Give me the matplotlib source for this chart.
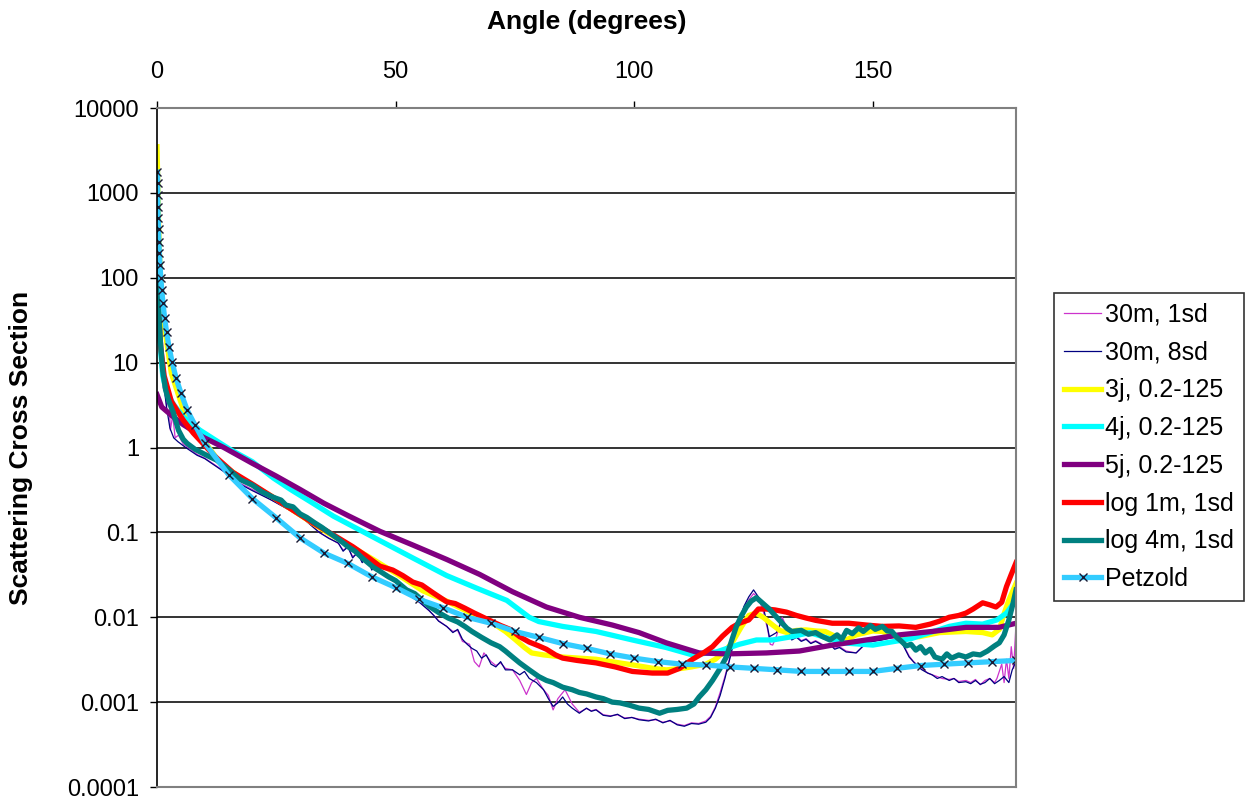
import matplotlib
matplotlib.use('Agg')
import matplotlib.pyplot as plt
from matplotlib.ticker import NullLocator

plt.rcParams['font.family'] = ['Liberation Sans', 'DejaVu Sans']

# series labels (legend order)
labels = ['30m, 1sd', '30m, 8sd', '3j, 0.2-125', '4j, 0.2-125', '5j, 0.2-125',
          'log 1m, 1sd', 'log 4m, 1sd', 'Petzold']

ytick_vals = [1e-4, 1e-3, 1e-2, 1e-1, 1, 10, 100, 1000, 10000]
ytick_labels = ['0.0001', '0.001', '0.01', '0.1', '1', '10', '100', '1000', '10000']
xtick_vals = [0, 50, 100, 150]

# 30m, 1sd
m1_ang = [0, 0.3, 0.7, 1.0, 1.3, 1.6, 2.0, 2.5, 2.8, 3.3, 3.8, 4.5, 5.5, 7, 8.4, 10, 12, 14, 17, 20,
          24, 28, 31, 34, 36, 38, 39, 40, 41, 42, 43, 44, 45, 46, 47, 48, 50, 52, 53.6, 55, 57, 58,
          59, 60.7, 62, 63, 64, 65.5, 66.5, 67.5, 68.5, 70, 71, 72, 73, 74.5, 76, 77.4, 78.5, 79.5,
          81, 82, 83, 84, 85.5, 87, 88.5, 90, 91, 92, 93.5, 95, 96.5, 98, 99.5, 101, 103, 104.5,
          106, 107.5, 109, 110.5, 112, 113.5, 115, 116, 117, 118, 119, 120, 121, 122, 123, 124,
          125, 126, 127, 128, 128.5, 129, 129.8, 131, 132, 133, 134, 135, 136, 137, 138, 140,
          141, 142, 143, 144.4, 146.5, 148.6, 150, 152, 154, 155.5, 156.5, 157.6, 158.5, 159.5,
          160.3, 161.5, 162.4, 163.5, 164.5, 166, 167, 168, 169.5, 170.5, 171.5, 172.5, 173.5,
          174.5, 175.5, 176, 177, 177.5, 178, 178.5, 179, 179.5, 180]
m1_val = [100, 40, 15, 8, 5, 7, 3, 4, 1.6, 2.4, 1.3, 1.4, 1.1, 0.95, 0.83, 0.75, 0.63, 0.53, 0.39,
          0.32, 0.24, 0.18, 0.14, 0.10, 0.086, 0.074, 0.062, 0.066, 0.052, 0.056, 0.045, 0.050,
          0.038, 0.041, 0.034, 0.030, 0.026, 0.021, 0.017, 0.015, 0.012, 0.0105, 0.0091, 0.0078,
          0.0068, 0.0070, 0.0052, 0.0048, 0.0030, 0.0026, 0.0038, 0.0030, 0.0027, 0.0029, 0.0025,
          0.0024, 0.0018, 0.00123, 0.0017, 0.0019, 0.0014, 0.0012, 0.00081, 0.0011, 0.0014,
          0.00095, 0.00076, 0.00084, 0.00079, 0.00082, 0.00071, 0.00069, 0.00071, 0.00065,
          0.00066, 0.00063, 0.00061, 0.00062, 0.00058, 0.00060, 0.00055, 0.00053, 0.00057,
          0.00056, 0.00060, 0.00068, 0.00088, 0.0013, 0.0020, 0.0033, 0.0056, 0.0090, 0.0130,
          0.016, 0.019, 0.017, 0.012, 0.0070, 0.0048, 0.0047, 0.0060, 0.0100, 0.0075, 0.0056,
          0.0060, 0.0053, 0.0056, 0.0050, 0.0053, 0.0046, 0.0049, 0.0043, 0.0045, 0.0040,
          0.0038, 0.0049, 0.0052, 0.0055, 0.0057, 0.0060, 0.0046, 0.0035, 0.0030, 0.0027,
          0.0025, 0.0022, 0.0021, 0.0020, 0.0019, 0.00185, 0.0019, 0.00175, 0.0018, 0.0017,
          0.00185, 0.0016, 0.0018, 0.0019, 0.0017, 0.0019, 0.0028, 0.0017, 0.0032, 0.0019,
          0.0045, 0.0025, 0.0085]

# 30m, 8sd
m8_ang = [0, 0.2, 0.5, 1.0, 1.5, 2.0, 2.7, 3.5, 4.4, 6, 8.4, 10, 12, 14, 17, 20, 24, 28, 31, 34,
          36, 38, 39, 40, 41, 42, 43, 44, 45, 46, 47, 48, 50, 52, 53.6, 55, 57, 58, 59, 60.7, 62,
          63, 64, 65, 66, 67, 68, 69, 70, 71, 72, 73, 74.5, 76, 77, 78, 79.5, 81, 82, 83, 84, 85,
          86, 87, 88.5, 90, 91, 92, 93.5, 95, 96.5, 98, 99.5, 101, 103, 104.5, 106, 107.5, 109,
          110.5, 112, 113.5, 115, 116, 117, 118, 119, 120, 121, 122, 123, 124, 125, 126, 127,
          127.7, 128.3, 129, 129.8, 131, 132, 133, 134, 135, 136, 137, 138, 140, 141, 142, 143,
          144.4, 146.5, 148.6, 150, 152, 154, 155.5, 156.5, 157.6, 158.5, 159.5, 160.3, 161.5,
          162.4, 163.5, 164.5, 166, 167, 168, 169.5, 170.5, 171.5, 172.5, 173.5, 174.5, 175.5,
          176.5, 177.5, 178.5, 179.2, 180]
m8_val = [280, 120, 40, 12, 5, 3.0, 1.7, 1.3, 1.17, 1.0, 0.81, 0.74, 0.62, 0.52, 0.38, 0.31,
          0.24, 0.18, 0.14, 0.10, 0.085, 0.075, 0.060, 0.068, 0.050, 0.058, 0.044, 0.052, 0.036,
          0.042, 0.033, 0.030, 0.026, 0.021, 0.017, 0.015, 0.012, 0.0105, 0.0090, 0.0078,
          0.0066, 0.0072, 0.0055, 0.0048, 0.0043, 0.0040, 0.0033, 0.0036, 0.0028, 0.0026,
          0.0030, 0.0024, 0.0024, 0.0021, 0.0023, 0.0019, 0.0017, 0.0014, 0.0011, 0.00089,
          0.00098, 0.00115, 0.00095, 0.00085, 0.00074, 0.00085, 0.00078, 0.00081, 0.00070,
          0.00068, 0.00072, 0.00064, 0.00066, 0.00062, 0.00060, 0.00063, 0.00057, 0.00061,
          0.00054, 0.00052, 0.00056, 0.00055, 0.00058, 0.00066, 0.00085, 0.0012, 0.0019,
          0.0032, 0.0055, 0.0093, 0.0135, 0.0174, 0.021, 0.0174, 0.0135, 0.0090, 0.0059,
          0.0062, 0.0066, 0.0093, 0.0072, 0.0054, 0.0058, 0.0052, 0.0055, 0.0049, 0.0052,
          0.0045, 0.0048, 0.0042, 0.0044, 0.0039, 0.0038, 0.0050, 0.0052, 0.0054, 0.0058,
          0.0059, 0.0045, 0.0034, 0.0030, 0.0026, 0.0024, 0.0022, 0.0021, 0.0019, 0.0020,
          0.0018, 0.0019, 0.00170, 0.00174, 0.00165, 0.0018, 0.00162, 0.0017, 0.0019, 0.00165,
          0.0018, 0.0020, 0.0017, 0.0024, 0.0030]

# 3j, 0.2-125
j3_ang = [0, 0.1, 0.25, 0.5, 0.8, 1.5, 3, 5.5, 9, 13.2, 18, 24.3, 30, 35.6, 40, 45.3, 50, 55.7,
          60.7, 64, 67.6, 70, 73, 75, 77, 78.5, 81, 85, 92, 99.6, 104, 106.7, 110, 112, 115, 117,
          119, 120.5, 122.5, 124, 125.5, 127, 129, 130.5, 132, 134, 136, 138, 140, 142, 144.4,
          146.5, 148.6, 150, 152, 154, 155.5, 159.7, 164, 169.5, 173, 175, 176.5, 177.5, 178.5,
          180]
j3_val = [3500, 2000, 700, 200, 90, 28, 7.5, 2.8, 1.4, 0.66, 0.42, 0.26, 0.16, 0.10, 0.072,
          0.048, 0.033, 0.0205, 0.0155, 0.0125, 0.0100, 0.0088, 0.0068, 0.0055, 0.0044, 0.0038,
          0.0036, 0.0034, 0.0032, 0.00275, 0.0025, 0.0024, 0.0025, 0.0026, 0.0028, 0.0032,
          0.0040, 0.0050, 0.0078, 0.0105, 0.0112, 0.0100, 0.0081, 0.0070, 0.0066, 0.0070,
          0.0071, 0.0069, 0.0068, 0.0060, 0.0054, 0.0062, 0.0066, 0.0069, 0.0068, 0.0061,
          0.0059, 0.0059, 0.0066, 0.0068, 0.0066, 0.0062, 0.0072, 0.0110, 0.016, 0.025]

# 4j, 0.2-125
j4_ang = [0, 0.3, 0.7, 1.2, 2, 3.5, 5.5, 9, 15.3, 20, 24.3, 28, 32.7, 37, 41, 46.7, 53.6, 60.7,
          67, 73.3, 78, 80, 85, 92, 99.6, 106.7, 112.2, 117.2, 122, 125.6, 129, 133, 136.7, 140,
          143.6, 150, 158, 166, 169.5, 173, 176, 178, 180]
j4_val = [90, 40, 15, 7, 4.5, 3.2, 2.3, 1.6, 0.95, 0.68, 0.44, 0.32, 0.22, 0.155, 0.118, 0.080,
          0.050, 0.031, 0.022, 0.0158, 0.0100, 0.0089, 0.0078, 0.0068, 0.0054, 0.0044, 0.0036,
          0.0039, 0.0048, 0.0054, 0.0054, 0.0059, 0.0066, 0.0058, 0.0050, 0.0047, 0.0056,
          0.0078, 0.0085, 0.0083, 0.0093, 0.0112, 0.0160]

# 5j, 0.2-125
j5_ang = [0, 1, 3, 5.5, 9.6, 14, 20, 25, 30, 35, 40, 46.7, 53.6, 60.7, 67.6, 74.5, 81.6, 88.5,
          95.4, 101, 106.7, 113.6, 119.3, 127.7, 134.6, 141.5, 148.6, 155.5, 162.4, 169.5, 176.4,
          180]
j5_val = [4.2, 3.0, 2.4, 1.86, 1.33, 1.0, 0.65, 0.46, 0.32, 0.22, 0.158, 0.103, 0.071, 0.048,
          0.032, 0.020, 0.0132, 0.0100, 0.0081, 0.0066, 0.0050, 0.0038, 0.0037, 0.0038, 0.0040,
          0.0047, 0.0054, 0.0062, 0.0068, 0.0076, 0.0076, 0.0085]

# log 1m, 1sd
l1_ang = [0, 0.3, 0.8, 1.5, 3, 5.5, 7.6, 9.6, 12, 15.9, 20, 24.3, 28, 32.7, 37, 41, 44, 46.7,
          49.4, 51.5, 53.6, 55.5, 57.8, 60.7, 62.5, 64.5, 66.5, 69.7, 72, 74, 76, 78, 80, 81.6,
          83.5, 85, 88, 92, 96, 99.6, 103.8, 107, 109.5, 112.2, 114.5, 116.4, 118.5, 120.5, 122,
          124, 126, 127.7, 129.5, 131.9, 134, 136, 138, 141.5, 145, 148.6, 152, 155.5, 159, 162,
          164, 166, 168, 169.5, 171, 173, 174.5, 175.8, 177, 178, 179, 180]
l1_val = [115, 40, 15, 7, 3.5, 2.1, 1.48, 1.12, 0.80, 0.51, 0.37, 0.26, 0.19, 0.129, 0.093,
          0.068, 0.052, 0.040, 0.036, 0.031, 0.026, 0.024, 0.0195, 0.0152, 0.0145, 0.0128,
          0.0112, 0.0092, 0.0080, 0.0072, 0.0059, 0.0051, 0.0046, 0.0042, 0.0036, 0.0033,
          0.0031, 0.0029, 0.0026, 0.0023, 0.0022, 0.0022, 0.0025, 0.0032, 0.0038, 0.0045,
          0.0060, 0.0076, 0.0085, 0.0093, 0.0125, 0.0125, 0.0122, 0.0115, 0.0105, 0.0098,
          0.0092, 0.0085, 0.0085, 0.0081, 0.0078, 0.0079, 0.0076, 0.0083, 0.0090, 0.0100,
          0.0105, 0.0112, 0.0125, 0.0148, 0.0140, 0.0132, 0.0150, 0.023, 0.032, 0.044]

# log 4m, 1sd
l4_ang = [0, 0.3, 0.7, 1.2, 1.8, 2.5, 3.4, 4.5, 5.5, 6.3, 8, 10.4, 12.5, 15, 17.4, 20, 22, 24.3,
          26, 27, 28.5, 30, 31.4, 33, 34.5, 36, 38.3, 40, 41.5, 43, 45.3, 47, 48.5, 50, 52.3, 54,
          55.5, 57, 59.2, 61, 63, 64.5, 66, 68, 70, 71.8, 73, 74.5, 76, 78, 80, 81.6, 83, 85, 87,
          88.5, 90, 92, 93.5, 95.4, 97, 99, 101, 103, 105.3, 107, 109, 111, 112.5, 113.6, 115,
          116.4, 118, 119.3, 120.5, 121.4, 122.5, 123.5, 124.5, 125.6, 127, 128.3, 129.5, 131,
          132, 133, 135, 136.5, 138, 139.5, 141, 142.5, 143.5, 144.5, 145.7, 147, 148, 149.5,
          150.5, 152, 153, 154, 155, 156, 157, 158, 159, 160, 161, 162, 163, 164.5, 165.5,
          166.5, 168, 169.5, 171, 172.5, 174, 175.5, 176.5, 177.5, 178.5, 179.3, 180]
l4_val = [150, 50, 18, 8, 4.8, 3.5, 2.6, 1.6, 1.25, 1.12, 0.95, 0.81, 0.71, 0.55, 0.42, 0.36,
          0.30, 0.26, 0.24, 0.21, 0.20, 0.165, 0.15, 0.13, 0.115, 0.10, 0.081, 0.068, 0.060,
          0.050, 0.039, 0.034, 0.030, 0.027, 0.021, 0.019, 0.016, 0.0135, 0.0112, 0.0098,
          0.0088, 0.0078, 0.0068, 0.0058, 0.0050, 0.0045, 0.0040, 0.0034, 0.0029, 0.0024,
          0.0020, 0.0018, 0.0017, 0.0015, 0.0014, 0.0013, 0.00125, 0.00115, 0.0011, 0.00100,
          0.00098, 0.00092, 0.00085, 0.00082, 0.00074, 0.00080, 0.00082, 0.00085, 0.00095,
          0.00115, 0.0014, 0.0018, 0.0025, 0.0034, 0.0055, 0.0078, 0.0105, 0.0132, 0.0155,
          0.017, 0.0145, 0.0125, 0.0105, 0.0085, 0.0074, 0.0068, 0.0070, 0.0063, 0.0066,
          0.0059, 0.0054, 0.0062, 0.0055, 0.0070, 0.0064, 0.0075, 0.0068, 0.0080, 0.0072,
          0.0078, 0.0069, 0.0068, 0.0058, 0.0052, 0.0046, 0.0048, 0.0041, 0.0045, 0.0038,
          0.0042, 0.0034, 0.0032, 0.0037, 0.0033, 0.0036, 0.0034, 0.0037, 0.0036, 0.0040,
          0.0046, 0.0050, 0.0062, 0.0093, 0.014, 0.021]

# Petzold
pz_ang = [0.1, 0.126, 0.158, 0.2, 0.251, 0.316, 0.398, 0.501, 0.631, 0.794, 1.0, 1.259, 1.585,
          1.995, 2.512, 3.162, 3.981, 5.012, 6.31, 7.943, 10, 15, 20, 25, 30, 35, 40, 45, 50, 55,
          60, 65, 70, 75, 80, 85, 90, 95, 100, 105, 110, 115, 120, 125, 130, 135, 140, 145, 150,
          155, 160, 165, 170, 175, 180]
pz_val = [1760, 1310, 945, 682, 506, 376, 264, 195, 141, 100, 72, 50, 34, 23, 15.3, 10.2, 6.6,
          4.4, 2.77, 1.85, 1.13, 0.48, 0.25, 0.148, 0.086, 0.057, 0.043, 0.030, 0.0224, 0.0162,
          0.0129, 0.0100, 0.0085, 0.0068, 0.0058, 0.0049, 0.0043, 0.0037, 0.0033, 0.0030,
          0.0028, 0.00274, 0.0026, 0.0025, 0.0024, 0.0023, 0.0023, 0.0023, 0.0023, 0.0025,
          0.0027, 0.0028, 0.0029, 0.0030, 0.0031]

fig = plt.figure(figsize=(12.57, 8.02), dpi=100)
ax = fig.add_axes([0.1249, 0.0187, 0.6834, 0.8466])

thin = 0.9
thick = 3.8
ax.plot(m1_ang, m1_val, color='#CC33CC', lw=thin, label=labels[0])
ax.plot(m8_ang, m8_val, color='#000080', lw=thin, label=labels[1])
ax.plot(j3_ang, j3_val, color='#FFFF00', lw=thick, label=labels[2])
ax.plot(j4_ang, j4_val, color='#00FFFF', lw=thick, label=labels[3])
ax.plot(j5_ang, j5_val, color='#800080', lw=thick, label=labels[4])
ax.plot(l1_ang, l1_val, color='#FF0000', lw=thick, label=labels[5])
ax.plot(l4_ang, l4_val, color='#008080', lw=thick, label=labels[6])
ax.plot(pz_ang, pz_val, color='#33CCFF', lw=thick, marker='x', ms=6, mec='#1a1a33',
        mew=1.0, label=labels[7])

ax.set_yscale('log')
ax.set_ylim(1e-4, 1e4)
ax.set_xlim(0, 180)
ax.set_yticks(ytick_vals, ytick_labels)
ax.yaxis.set_minor_locator(NullLocator())
ax.set_xticks(xtick_vals)
ax.xaxis.tick_top()
ax.xaxis.set_label_position('top')
ax.tick_params(axis='both', which='major', labelsize=17, direction='out', length=5,
               width=1, color='black')
ax.tick_params(axis='x', pad=13)
ax.tick_params(axis='y', pad=8)

ax.set_axisbelow(True)
ax.yaxis.grid(True, color='#333333', lw=1.4)

ax.spines['left'].set_color('black')
ax.spines['left'].set_linewidth(1.2)
for s in ['top', 'right', 'bottom']:
    ax.spines[s].set_color('#808080')
    ax.spines[s].set_linewidth(1.5)

ax.set_xlabel('Angle (degrees)', fontsize=19, fontweight='bold')
ax.xaxis.set_label_coords(0.5, 1.1267)
ax.xaxis.label.set_verticalalignment('center')
ax.set_ylabel('Scattering Cross Section', fontsize=19, fontweight='bold')
ax.yaxis.set_label_coords(-0.158, 0.5)
ax.yaxis.label.set_verticalalignment('center')

leg = ax.legend(loc='upper left', bbox_to_anchor=(0.8385, 0.6347),
                bbox_transform=fig.transFigure, frameon=True, fancybox=False,
                edgecolor='black', fontsize=18, handlelength=1.5, handletextpad=0.15,
                labelspacing=0.55, borderpad=0.4, borderaxespad=0)
leg.get_frame().set_linewidth(1.2)

fig.savefig('out.png', dpi=100)
